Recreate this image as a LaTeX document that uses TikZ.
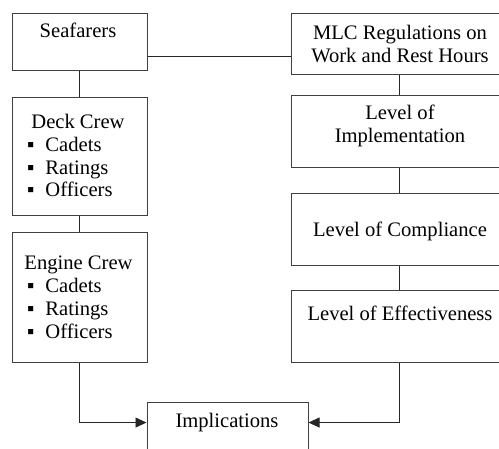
\documentclass[tikz,border=0pt]{standalone}
\usepackage{fontspec}
\setmainfont{Liberation Serif}
\usetikzlibrary{arrows.meta}
\begin{document}
\begin{tikzpicture}[x=1pt, y=-1pt, line width=1pt,
	box/.style = {draw=black!75, rectangle, inner sep=0pt},
	txt/.style = {inner sep=0pt, font=\fontsize{20.6}{23}\selectfont},
	item/.style = {txt, anchor=base west},
	link/.style = {draw=black!85, line width=0.9pt},
	arr/.style = {link, -{Triangle[length=11pt, width=10pt]}}]

	\useasboundingbox (0,0) rectangle (499,449);
	\clip (0,0) rectangle (499,449);

	% left column
	\node[box, minimum width=135, minimum height=57] (sea) at (79.5,42.5) {};
	\node[box, minimum width=135, minimum height=118] (deck) at (79.5,157) {};
	\node[box, minimum width=135, minimum height=130] (eng) at (79.5,298) {};
	\node[box, minimum width=161, minimum height=67] (impl) at (227.5,436.5) {};

	\node[txt, anchor=base] (seat) at (78,37.5) {Seafarers};
	\node[txt, anchor=base] (deckt) at (78,128.5) {Deck Crew};
	\foreach \t [count=\i] in {Cadets,Ratings,Officers}
		\node[item] (deck\i) at (45,128.5+22.8*\i) {\llap{▪\hspace{11pt}}\t};
	\node[txt, anchor=base] (engt) at (78.5,269.5) {Engine Crew};
	\foreach \t [count=\i] in {Cadets,Ratings,Officers}
		\node[item] (eng\i) at (45,269.5+23*\i) {\llap{▪\hspace{11pt}}\t};
	\node[txt, anchor=base] (implt) at (227,427.5) {Implications};

	% right column
	\node[box, minimum width=216, minimum height=61] (mlc) at (399,44.5) {};
	\node[box, minimum width=216, minimum height=72] (limp) at (399,132) {};
	\node[box, minimum width=216, minimum height=72] (lcomp) at (399,230) {};
	\node[box, minimum width=216, minimum height=72] (leff) at (399,327) {};

	\node[txt, align=center] (mlct) at (400,44.5) {MLC Regulations on\\Work and Rest Hours};
	\node[txt, align=center] (limpt) at (400,126.2) {Level of\\Implementation};
	\node[txt, anchor=base] (lcompt) at (400,236.5) {Level of Compliance};
	\node[txt, anchor=base] (lefft) at (400,320.5) {Level of Effectiveness};

	% connectors
	\coordinate (join) at (219,56);
	\draw[link] (sea.east |- join) -- (mlc.west |- join);
	\draw[link] (sea) -- (deck);
	\draw[link] (deck) -- (eng);
	\draw[link] (mlc) -- (limp);
	\draw[link] (limp) -- (lcomp);
	\draw[link] (lcomp) -- (leff);
	\draw[arr] (eng.south) |- (impl.west |- implt);
	\draw[arr] (leff.south) |- (impl.east |- implt);
\end{tikzpicture}
\end{document}
